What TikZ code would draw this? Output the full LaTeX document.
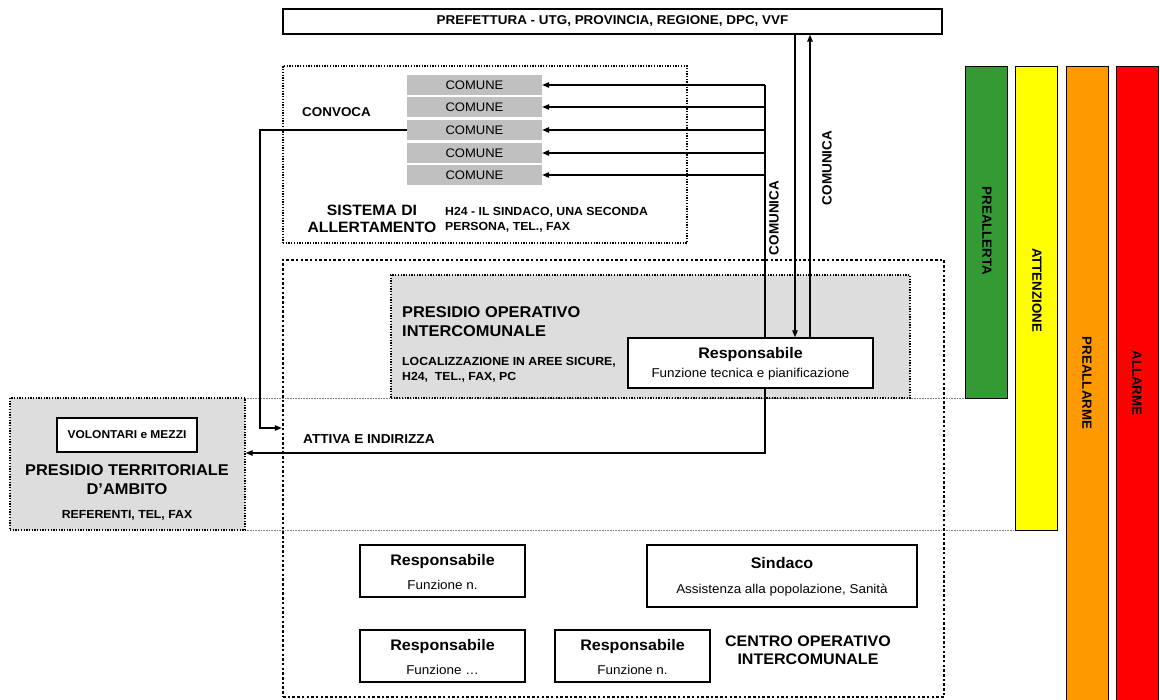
\documentclass[tikz,border=0pt]{standalone}
\usepackage{fontspec}
\setmainfont{Liberation Sans}[FakeStretch=1.05]
\newfontfamily\vfont{Liberation Sans}
\usetikzlibrary{arrows.meta}
\definecolor{cgray}{RGB}{192,192,192}
\definecolor{pgray}{RGB}{221,221,221}
\definecolor{cgreen}{RGB}{52,154,52}
\definecolor{cyellow}{RGB}{255,255,0}
\definecolor{corange}{RGB}{255,153,0}
\definecolor{cred}{RGB}{255,0,0}
\begin{document}
\begin{tikzpicture}[x=1pt,y=-1pt,
  box/.style={draw,line width=1.3pt,fill=white,inner sep=0pt},
  thickbox/.style={draw,line width=2pt,fill=white,inner sep=0pt},
  combox/.style={fill=cgray,inner sep=0pt,minimum width=135pt,minimum height=20pt,
     font=\fontsize{12.4}{13}\selectfont},
  dotbox/.style={draw,line width=1.3pt,dash pattern=on 1.3pt off 1.4pt,inner sep=0pt},
  bigdot/.style={draw,line width=2.5pt,dash pattern=on 2.5pt off 2.2pt,inner sep=0pt},
  bar/.style={draw,line width=0.9pt,inner sep=0pt,minimum width=42pt},
  bartext/.style={rotate=-90,inner sep=0pt,font=\vfont\bfseries\fontsize{13.3}{15}\selectfont},
  vtext/.style={rotate=90,inner sep=0pt,font=\vfont\bfseries\fontsize{13.5}{15}\selectfont},
  conn/.style={line width=1.3pt},
  arr/.style={line width=1.3pt,-{Triangle[length=7pt,width=5.5pt]}},
  thin/.style={draw=gray,line width=0.7pt,dash pattern=on 0.8pt off 0.8pt},
  ttl/.style={inner sep=0pt,align=center,font=\bfseries\fontsize{15.6}{19}\selectfont},
  sml/.style={inner sep=0pt,align=left,font=\bfseries\fontsize{11.7}{15}\selectfont},
  rtitle/.style={inner sep=0pt,font=\bfseries\fontsize{15.3}{16}\selectfont},
  rsub/.style={inner sep=0pt,font=\fontsize{12.8}{14}\selectfont},
  lbl/.style={inner sep=0pt,font=\bfseries\fontsize{12.8}{14}\selectfont}
]
\useasboundingbox (0,0) rectangle (1160,700);

% thin separator lines
\coordinate (sepA) at (245,398);
\coordinate (sepB) at (245,530);
\coordinate (sepAe) at (965,398);
\coordinate (sepBe) at (1015,530);
\draw[thin] (sepA) -- (sepAe);
\draw[thin] (sepB) -- (sepBe);

% Prefettura
\node[box,minimum width=659pt,minimum height=25pt] (pref) at (612.5,21.5) {};
\node[lbl] (preft) at (pref.center) {PREFETTURA - UTG, PROVINCIA, REGIONE, DPC, VVF};

% Sistema di allertamento
\node[dotbox,minimum width=404pt,minimum height=177pt] (sis) at (485,154.5) {};
\node[combox] (c1) at (474.5,85) {COMUNE};
\node[combox] (c2) at (474.5,107) {COMUNE};
\node[combox] (c3) at (474.5,130) {COMUNE};
\node[combox] (c4) at (474.5,153) {COMUNE};
\node[combox] (c5) at (474.5,175) {COMUNE};
\node[ttl,font=\bfseries\fontsize{15}{17}\selectfont] (sist) at (372,218.5) {SISTEMA DI\\ALLERTAMENTO};
\node[sml,anchor=west] (h24) at (445,219.5) {H24 - IL SINDACO, UNA SECONDA\\PERSONA, TEL., FAX};
\node[lbl,anchor=west] (conv) at (302,112) {CONVOCA};

% Centro operativo intercomunale
\node[bigdot,minimum width=661pt,minimum height=437pt] (coi) at (613.5,478.5) {};
\node[dotbox,fill=pgray,minimum width=519pt,minimum height=123pt] (pop) at (650.5,336.5) {};
\node[ttl,anchor=west,align=left] (popt) at (402,322) {PRESIDIO OPERATIVO\\INTERCOMUNALE};
\node[sml,anchor=west] (popl) at (402,369.5) {LOCALIZZAZIONE IN AREE SICURE,\\H24,\ \ TEL., FAX, PC};
\node[box,minimum width=245pt,minimum height=50pt] (resp) at (750.5,363) {};
\node[rtitle] (respt) at (750.5,355) {Responsabile};
\node[rsub] (resps) at (750.5,374) {Funzione tecnica e pianificazione};

% Presidio territoriale
\node[dotbox,fill=pgray,minimum width=235pt,minimum height=132pt] (pt) at (127.5,464) {};
\node[box,minimum width=140pt,minimum height=34pt] (vol) at (127,435) {};
\node[inner sep=0pt,font=\bfseries\fontsize{11.4}{12}\selectfont] (volt) at (vol.center) {VOLONTARI e MEZZI};
\node[ttl] (ptt) at (127,480) {PRESIDIO TERRITORIALE\\D'AMBITO};
\node[sml,align=center] (ptr) at (127,515) {REFERENTI, TEL, FAX};

% bottom boxes
\node[box,minimum width=165pt,minimum height=52pt] (r1) at (442.5,571) {};
\node[rtitle] (r1t) at (442.5,562) {Responsabile};
\node[rsub] (r1s) at (442.5,585) {Funzione n.};
\node[thickbox,minimum width=270pt,minimum height=62pt] (sind) at (782,576) {};
\node[rtitle] (sindt) at (782,563) {Sindaco};
\node[rsub] (sinds) at (782,590) {Assistenza alla popolazione, Sanità};
\node[box,minimum width=165pt,minimum height=52pt] (r3) at (442.5,656) {};
\node[rtitle] (r3t) at (442.5,647) {Responsabile};
\node[rsub] (r3s) at (442.5,670) {Funzione \dots};
\node[box,minimum width=155pt,minimum height=52pt] (r4) at (632.5,656) {};
\node[rtitle] (r4t) at (632.5,647) {Responsabile};
\node[rsub] (r4s) at (632.5,670) {Funzione n.};
\node[ttl,font=\bfseries\fontsize{15.3}{18}\selectfont] (coit) at (808,650) {CENTRO OPERATIVO\\INTERCOMUNALE};

% alert bars
\node[bar,fill=cgreen,minimum height=332pt] (b1) at (986.5,232) {};
\node[bar,fill=cyellow,minimum height=464pt] (b2) at (1036.5,298) {};
\node[bar,fill=corange,minimum height=640pt] (b3) at (1087,386) {};
\node[bar,fill=cred,minimum height=640pt] (b4) at (1137,386) {};
\node[bartext] (b1t) at (987,231) {PREALLERTA};
\node[bartext] (b2t) at (1037,290) {ATTENZIONE};
\node[bartext] (b3t) at (1087,383) {PREALLARME};
\node[bartext] (b4t) at (1137,383) {ALLARME};

% connectors
\coordinate (tx) at (765,0);
\coordinate (dx) at (795,0);
\coordinate (ux) at (810,0);
\draw[conn] (resp.north -| tx) -- (c1.east -| tx);
\foreach \i in {1,...,5}{\draw[arr] (c\i.east -| tx) -- (c\i.east);}
\draw[arr] (pref.south -| dx) -- (resp.north -| dx);
\draw[arr] (resp.north -| ux) -- (pref.south -| ux);
\node[vtext] (com1) at (774,218) {COMUNICA};
\node[vtext] (com2) at (827,168) {COMUNICA};

\coordinate (cvx) at (260,428);
\draw[arr] (c3.west) -| (cvx) -- (cvx -| coi.west);

\coordinate (aty) at (0,453);
\draw[arr] (resp.south -| tx) |- (aty -| pt.east);
\node[lbl,font=\bfseries\fontsize{13}{14}\selectfont,anchor=west] (att) at (303,439) {ATTIVA E INDIRIZZA};
\end{tikzpicture}
\end{document}
